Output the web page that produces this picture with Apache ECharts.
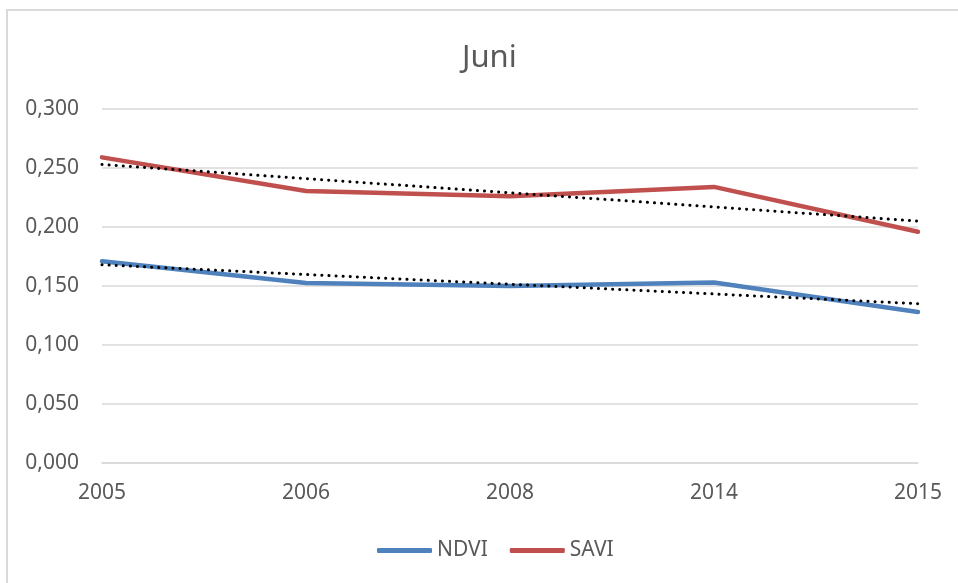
<!DOCTYPE html>
<html>
<head>
    <meta charset="utf-8">
    <title>Juni</title>
    <script src="https://cdn.jsdelivr.net/npm/echarts@6.0.0/dist/echarts.min.js"></script>
    <style>
        html, body { margin: 0; padding: 0; background: #fff; }
        #mainChart { width: 958px; height: 583px; }
    </style>
</head>
<body>
<div id="mainChart"></div>
<script>
// Daten
const years = ['2005', '2006', '2008', '2014', '2015'];
const ndvi = [0.171, 0.1525, 0.150, 0.153, 0.128];
const savi = [0.259, 0.2305, 0.226, 0.234, 0.196];
// lineare Trendlinien: nur Anfangs- und Endwert
const ndviTrend = [0.168, null, null, null, 0.135];
const saviTrend = [0.253, null, null, null, 0.205];
const yTicks = { min: 0, max: 0.3, step: 0.05 };

const grey = '#595959';
const gridGrey = '#d9d9d9';
const font = 'Noto Sans';

const chart = echarts.init(document.getElementById('mainChart'));

function trendSeries(name, data) {
    return {
        name: name,
        type: 'line',
        data: data,
        connectNulls: true,
        showSymbol: false,
        silent: true,
        z: 3,
        lineStyle: { color: '#000', width: 3, type: [0.1, 7], cap: 'round' }
    };
}

function mainSeries(name, data, color) {
    return {
        name: name,
        type: 'line',
        data: data,
        showSymbol: false,
        z: 2,
        itemStyle: { color: color },
        lineStyle: { color: color, width: 4.5, cap: 'round', join: 'round' }
    };
}

const option = {
    animation: false,
    textStyle: { fontFamily: font },
    title: {
        text: 'Juni',
        left: 457,
        top: 38,
        textStyle: { fontFamily: font, fontSize: 31, fontWeight: 'normal', color: grey }
    },
    graphic: [{
        type: 'polyline',
        shape: { points: [[7, 583], [7, 10], [958, 10]] },
        style: { stroke: gridGrey, lineWidth: 2, fill: null },
        silent: true
    }],
    legend: {
        data: [
            { name: 'NDVI', icon: 'roundRect' },
            { name: 'SAVI', icon: 'roundRect' }
        ],
        left: 372,
        top: 535,
        itemWidth: 55,
        itemHeight: 5,
        itemGap: 22,
        textStyle: { fontFamily: font, fontSize: 21, color: grey }
    },
    grid: { left: 102, right: 40, top: 109, bottom: 120 },
    xAxis: {
        type: 'category',
        data: years,
        boundaryGap: false,
        axisTick: { show: false },
        axisLine: { lineStyle: { color: gridGrey, width: 1.5 } },
        axisLabel: { color: grey, fontSize: 21, fontFamily: font, margin: 20 }
    },
    yAxis: {
        type: 'value',
        min: yTicks.min,
        max: yTicks.max,
        interval: yTicks.step,
        axisLine: { show: false },
        axisTick: { show: false },
        splitLine: { lineStyle: { color: gridGrey, width: 1.5 } },
        axisLabel: {
            color: grey, fontSize: 21, fontFamily: font, margin: 23,
            formatter: v => v.toFixed(3).replace('.', ',')
        }
    },
    series: [
        mainSeries('NDVI', ndvi, '#4F81BD'),
        mainSeries('SAVI', savi, '#C0504D'),
        trendSeries('Linear (NDVI)', ndviTrend),
        trendSeries('Linear (SAVI)', saviTrend)
    ]
};

chart.setOption(option);
</script>
</body>
</html>
